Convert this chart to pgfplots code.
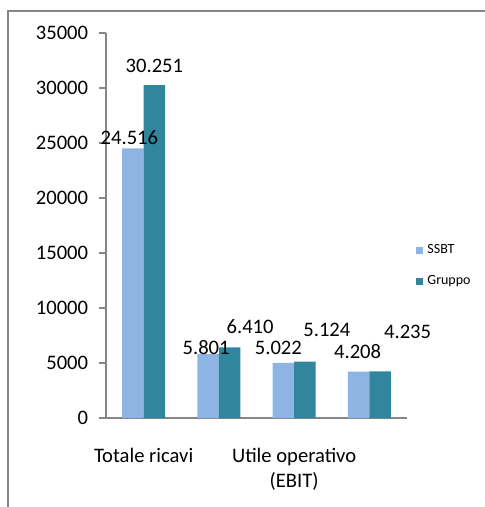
\documentclass[border=0pt]{standalone}
\usepackage{pgfplots}
\pgfplotsset{compat=1.18}
\usepackage{pgfplotstable}
\usepackage{fontspec}
\setmainfont{Carlito}
\definecolor{ssbt}{RGB}{142,180,227}
\definecolor{gruppo}{RGB}{49,133,156}
\definecolor{axgray}{RGB}{134,134,134}

\pgfplotstableread{
x y lab dx dy
0 24516 24.516 -1.75 5.5
1 5801 5.801 -1 3.5
2 5022 5.022 -2.5 7.5
3 4208 4.208 -0.5 9.85
}\ssbtdata
\pgfplotstableread{
x y lab dx dy
0 30251 30.251 0 9.5
1 6410 6.410 10.25 10.25
2 5124 5.124 11 15.8
3 4235 4.235 13.75 19.7
}\gruppodata

\begin{document}
\begin{tikzpicture}
\begin{axis}[
  at={(0pt,0pt)}, anchor=south west,
  scale only axis,
  width=150.5pt, height=192.5pt,
  xmin=-0.5, xmax=3.5,
  ymin=0, ymax=35000,
  ybar=0pt, bar width=10.75pt,
  axis lines=left,
  axis line style={-, draw=axgray, line width=1pt},
  every outer x axis line/.append style={-},
  every outer y axis line/.append style={-},
  tick align=outside,
  tick pos=left,
  major tick length=3.25pt,
  tick style={draw=axgray, line width=1pt},
  ytick={0,5000,...,35000},
  scaled y ticks=false,
  /pgf/number format/assume math mode=true,
  /pgf/number format/set thousands separator={},
  y tick label style={font=\fontsize{10.3}{12}\selectfont, inner sep=0pt, xshift=-5.5pt},
  xtick={0,2},
  xticklabels={Totale ricavi,{Utile operativo\\(EBIT)}},
  x tick style={draw=none},
  x tick label style={font=\fontsize{10.3}{12.5}\selectfont, align=center, inner sep=0pt, yshift=-11.5pt},
  extra x ticks={-0.5,0.5,1.5,2.5,3.5},
  extra x tick labels={},
  extra x tick style={tick style={draw=axgray, line width=1pt}, major tick length=3.5pt},
  legend style={draw=none, fill=none, font=\fontsize{7}{8}\selectfont,
    at={(axis description cs:1.03,0.462)}, anchor=north west,
    inner sep=0pt, row sep=5.5pt,
    legend cell align=left},
  legend image code/.code={\fill[#1] (0pt,-1.75pt) rectangle (3.5pt,1.75pt);},
  nodes near coords,
  point meta=explicit symbolic,
  every node near coord/.append style={font=\fontsize{10.3}{12}\selectfont, anchor=center, inner sep=0pt, xshift=\dx pt, yshift=\dy pt},
  visualization depends on={\thisrow{dx} \as \dx},
  visualization depends on={\thisrow{dy} \as \dy},
]
\addplot[fill=ssbt, draw=none] table[x=x, y=y, meta=lab] {\ssbtdata};
\addlegendentry{SSBT}
\addplot[fill=gruppo, draw=none] table[x=x, y=y, meta=lab] {\gruppodata};
\addlegendentry{Gruppo}
\end{axis}
\draw[axgray, line width=0.75pt] (-49pt,-50pt) -- (-49pt,203.5pt) -- (195pt,203.5pt);
\pgfresetboundingbox
\path[use as bounding box] (-53pt,-44.5pt) rectangle (189pt,209pt);
\end{tikzpicture}
\end{document}
